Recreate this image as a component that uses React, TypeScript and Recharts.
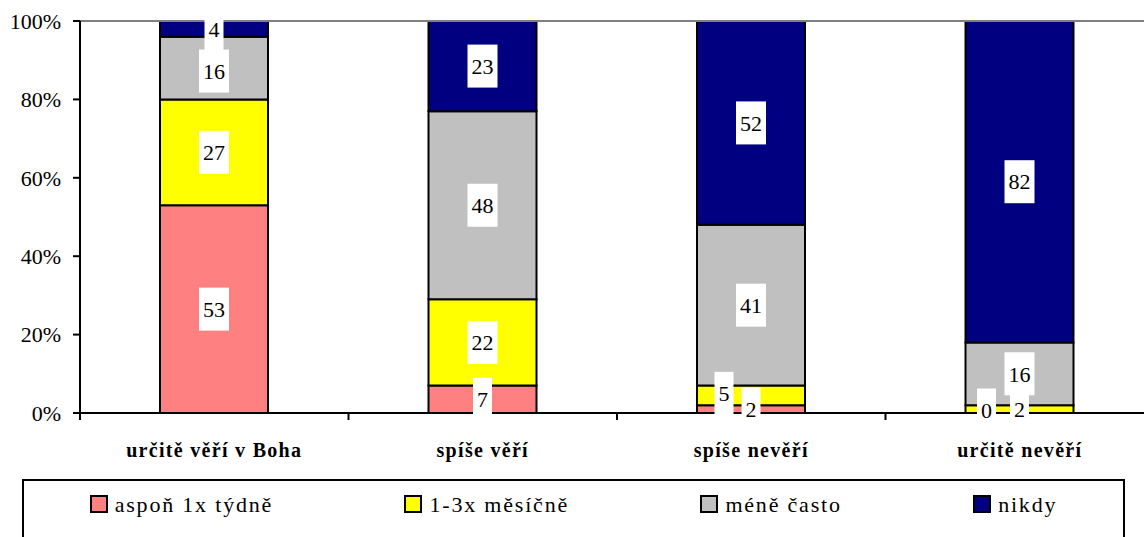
import { BarChart, Bar, XAxis, YAxis, ReferenceLine, LabelList } from 'recharts'

const categories = ['určitě věří v Boha', 'spíše věří', 'spíše nevěří', 'určitě nevěří']
const seriesNames = ['aspoň 1x týdně', '1-3x měsíčně', 'méně často', 'nikdy']
const weekly = [53, 7, 2, 0]
const monthly = [27, 22, 5, 2]
const lessOften = [16, 48, 41, 16]
const never = [4, 23, 52, 82]
const yTicks = [0, 20, 40, 60, 80, 100]

const values = [weekly, monthly, lessOften, never]
const colors = ['#FF8080', '#FFFF00', '#C0C0C0', '#000080']
const keys = ['s0', 's1', 's2', 's3']

// nudges for labels that Excel pushed aside so they don't overlap, [series][category]
const labelDx = [[0, 0, 0, -33], [0, 0, -27, 0], [0, 0, 0, 0], [0, 0, 0, 0]]
const labelDy = [[0, 0, 0, -3], [0, 0, -2, 0], [3, 0, 0, 0], [0, 0, 0, 0]]

const FONT = '"Liberation Serif", "Times New Roman", serif'

const data = categories.map((c, i) => {
  const row: any = { name: c }
  keys.forEach((k, s) => { row[k] = values[s][i] })
  return row
})

// all segment labels are drawn from the top bar so they sit above every rect
// (and the zero-height segment still gets its "0")
function StackLabels(p: any) {
  const x = Number(p.x), y = Number(p.y), w = Number(p.width), h = Number(p.height)
  const i = p.index
  const last = values.length - 1
  const unit = h / values[last][i]
  const total = values.reduce((a, arr) => a + arr[i], 0)
  const bottom = y + total * unit
  let acc = 0
  return (
    <g>
      {values.map((arr, s) => {
        const v = arr[i]
        const cy = bottom - (acc + v / 2) * unit + labelDy[s][i]
        acc += v
        const txt = String(v)
        const bw = txt.length * 11 + 8
        const cx = x + w / 2 + labelDx[s][i]
        return (
          <g key={s}>
            <rect x={cx - bw / 2} y={cy - 21.5} width={bw} height={43} fill="#fff" />
            <text x={cx} y={cy} dy="0.35em" textAnchor="middle" fontSize={22} fontFamily={FONT} fill="#000">{txt}</text>
          </g>
        )
      })}
    </g>
  )
}

function CatTick(p: any) {
  const { x, y, payload, index } = p
  const half = payload?.offset ?? 134
  return (
    <g>
      <line x1={x + half} x2={x + half} y1={y - 7} y2={y} stroke="#000" strokeWidth={2} />
      {index === 0 && <line x1={x - half} x2={x - half} y1={y - 8} y2={y} stroke="#000" strokeWidth={2} />}
      <text x={x} y={y + 37} textAnchor="middle" fontSize={20} fontWeight="bold" letterSpacing={1.3} fontFamily={FONT} fill="#000">{payload.value}</text>
    </g>
  )
}

export default function App() {
  return (
    <div style={{ position: 'relative', width: 1144, height: 537, overflow: 'hidden', background: '#fff', fontFamily: FONT }}>
      <style>{'body{margin:0}'}</style>
      <BarChart width={1160} height={537} data={data} margin={{ top: 21, right: 6, left: 0, bottom: 0 }} barSize={108} style={{ fontFamily: FONT }}>
        <ReferenceLine y={100} stroke="#808080" strokeWidth={2} />
        <XAxis dataKey="name" height={124} interval={0} tickLine={false} tickSize={7} tickMargin={0}
          axisLine={{ stroke: '#000', strokeWidth: 2 }} tick={<CatTick />} />
        <YAxis width={80} domain={[0, 100]} ticks={yTicks} interval={0} tickFormatter={(v: number) => `${v}%`}
          tickSize={7} tickMargin={12} tickLine={{ stroke: '#000', strokeWidth: 2 }}
          axisLine={{ stroke: '#000', strokeWidth: 2 }} tick={{ fill: '#000', fontSize: 22, fontFamily: FONT }} />
        {keys.map((k, s) => (
          <Bar key={k} dataKey={k} name={seriesNames[s]} stackId="a" fill={colors[s]} stroke="#000" strokeWidth={2} isAnimationActive={false}>
            {s === keys.length - 1 && <LabelList dataKey={k} content={<StackLabels />} />}
          </Bar>
        ))}
      </BarChart>
      <div style={{ position: 'absolute', left: 22, top: 479, width: 1103, height: 80, boxSizing: 'border-box', border: '2px solid #000', borderBottom: 'none', display: 'flex', justifyContent: 'space-around', alignItems: 'center', paddingBottom: 32, background: '#fff' }}>
        {seriesNames.map((n, s) => (
          <div key={n} style={{ display: 'flex', alignItems: 'center', fontSize: 22, lineHeight: '25px', letterSpacing: 1.8, color: '#000' }}>
            <span style={{ display: 'inline-block', width: 14, height: 14, background: colors[s], border: '2px solid #000', marginRight: 7 }} />
            {n}
          </div>
        ))}
      </div>
    </div>
  )
}
